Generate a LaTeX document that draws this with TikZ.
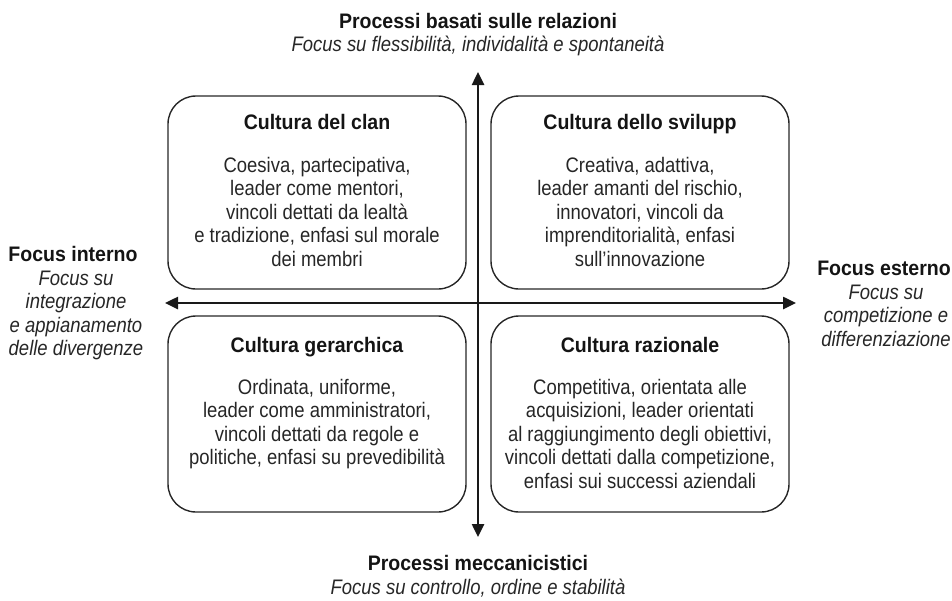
\documentclass[tikz,border=0pt]{standalone}
\usepackage{fontspec}
\setmainfont{Liberation Sans}[FakeStretch=0.88]
\newfontfamily\headfont{Liberation Sans}[FakeStretch=0.93]
\usetikzlibrary{arrows.meta}

% multi-line nodes are placed by the baseline of their last line
\tikzset{
  axis/.style={line width=2.5pt, draw=black!90,
    arrows={Triangle[length=13pt,width=12pt]-Triangle[length=13pt,width=12pt]}},
  quadbox/.style={draw=black!85, line width=1.4pt, rounded corners=28pt,
    minimum width=298pt, inner sep=0pt},
  boxtitle/.style={anchor=base, inner sep=0pt, text=black!92,
    font=\headfont\bfseries\fontsize{21}{23.5}\selectfont},
  boxbody/.style={anchor=base, inner sep=0pt, align=center, text=black!85,
    font=\fontsize{21}{23.5}\selectfont},
  sidetitle/.style={anchor=base, inner sep=0pt, text=black!92,
    font=\headfont\bfseries\fontsize{21}{23.5}\selectfont},
  sidenote/.style={anchor=base, inner sep=0pt, align=center, text=black!85,
    font=\itshape\fontsize{21}{23.5}\selectfont},
}

\begin{document}
\begin{tikzpicture}[x=1pt, y=-1pt]
  \useasboundingbox (0,0) rectangle (952,600);

  % quadrant boxes
  \node[quadbox, minimum height=193pt] (clan) at (317,192.5) {};
  \node[quadbox, minimum height=193pt] (svil) at (640,192.5) {};
  \node[quadbox, minimum height=196pt] (gera) at (317,414) {};
  \node[quadbox, minimum height=196pt] (razi) at (640,414) {};

  % axis end points
  \coordinate (ntip) at (478,72);
  \coordinate (stip) at (478,537);
  \coordinate (wtip) at (165,303);
  \coordinate (etip) at (796,303);
  \draw[axis] (wtip) -- (etip);
  \draw[axis] (stip) -- (ntip);

  % box contents
  \node[boxtitle] (clanT) at (317,129) {Cultura del clan};
  \node[boxbody] (clanB) at (317,266) {Coesiva, partecipativa,\\leader come mentori,\\vincoli dettati da lealtà\\e tradizione, enfasi sul morale\\dei membri};

  \node[boxtitle] (svilT) at (640,129) {Cultura dello svilupp};
  \node[boxbody] (svilB) at (640,266) {Creativa, adattiva,\\leader amanti del rischio,\\innovatori, vincoli da\\imprenditorialità, enfasi\\sull’innovazione};

  \node[boxtitle] (geraT) at (317,352) {Cultura gerarchica};
  \node[boxbody] (geraB) at (317,464.5) {Ordinata, uniforme,\\leader come amministratori,\\vincoli dettati da regole e\\politiche, enfasi su prevedibilità};

  \node[boxtitle] (raziT) at (640,352) {Cultura razionale};
  \node[boxbody] (raziB) at (640,488) {Competitiva, orientata alle\\acquisizioni, leader orientati\\al raggiungimento degli obiettivi,\\vincoli dettati dalla competizione,\\enfasi sui successi aziendali};

  % axis labels
  \node[sidetitle] (topT) at (478,28) {Processi basati sulle relazioni};
  \node[sidenote] (topN) at (478,51) {Focus su flessibilità, individalità e spontaneità};

  \node[sidetitle] (botT) at (478,570) {Processi meccanicistici};
  \node[sidenote] (botN) at (478,594) {Focus su controllo, ordine e stabilità};

  \node[sidetitle] (leftT) at (73,261.5) {Focus interno};
  \node[sidenote] (leftN) at (76,355.5) {Focus su\\integrazione\\e appianamento\\delle divergenze};

  \node[sidetitle] (rightT) at (884,275) {Focus esterno};
  \node[sidenote] (rightN) at (886,346) {Focus su\\competizione e\\differenziazione};
\end{tikzpicture}
\end{document}
